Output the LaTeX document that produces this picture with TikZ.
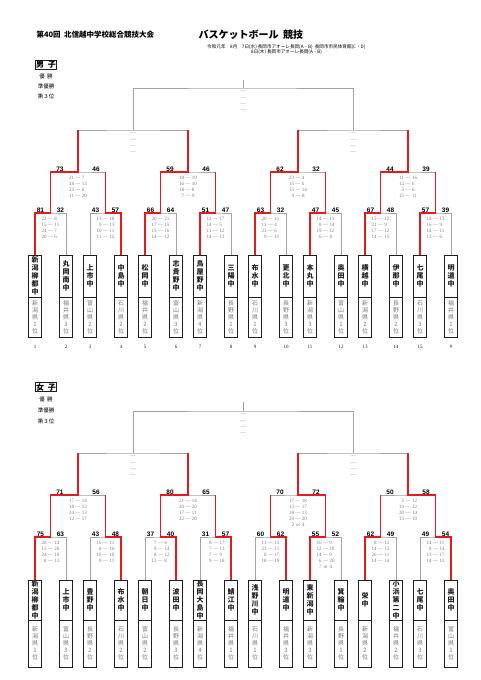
\documentclass[tikz,border=0pt]{standalone}
\usepackage{fontspec}
\setmainfont{Liberation Serif}
\setsansfont{Liberation Sans}
\newfontfamily\jp{Noto Sans CJK JP}
\usetikzlibrary{positioning,calc}
\definecolor{cGray}{HTML}{A3A3A3}
\definecolor{cRed}{HTML}{E5191E}
\definecolor{cInk}{HTML}{1E1E1E}
\definecolor{cSoft}{HTML}{7A7A7A}

\makeatletter
% upright names: one character per line
\newcommand\tate[1]{\edef\tate@list{#1}\vbox{\lineskiplimit=-\maxdimen
  \expandafter\@tfor\expandafter\tate@c\expandafter:\expandafter=\tate@list\do{\hbox to 12pt{\hss\tate@c\hss}}}}
% quarter scores, one a/b item per line (a/b/ot for overtime)
\newcommand\quarters[1]{\vbox{\lineskiplimit=-\maxdimen
  \@for\q@item:=#1\do{\expandafter\q@line\q@item/---/\relax}}}
\def\q@line#1/#2/#3/#4\relax{\hbox to 24pt{\hss\hbox to 8pt{\hss#1}\hspace{1.5pt}\hbox to 5pt{\hss#3\hss}\hspace{1.5pt}\hbox to 8pt{#2\hss}\hss}}
\makeatother

\tikzset{
  bline/.style  ={draw=cGray,line width=0.7pt},
  wline/.style  ={draw=cRed,line width=1.6pt},
  namebox/.style={draw=cInk,line width=0.9pt,minimum width=13pt,inner sep=0pt,outer sep=0pt,
                  anchor=north,font=\jp\bfseries\fontsize{7}{8}\selectfont,text=cInk},
  prefbox/.style={draw=cInk,line width=0.9pt,minimum width=13pt,inner sep=0pt,outer sep=0pt,
                  font=\jp\fontsize{6}{7}\selectfont,text=cSoft},
  pts/.style    ={font=\sffamily\bfseries\fontsize{6.5}{7}\selectfont,inner sep=0.4pt,anchor=south},
  sets/.style   ={font=\fontsize{5}{6.2}\selectfont,text=cSoft,inner sep=0pt,anchor=north},
  seed/.style   ={font=\fontsize{5}{6}\selectfont,text=cInk,inner sep=0pt},
  sexbox/.style ={draw=cInk,line width=0.8pt,font=\jp\bfseries\fontsize{8}{9}\selectfont,inner sep=0.8pt},
  rank/.style   ={font=\jp\fontsize{5.5}{6}\selectfont},
}

\begin{document}
\begin{tikzpicture}[x=1pt,y=-1pt]
\useasboundingbox (0,0) rectangle (481,680);

% heading
\node[anchor=west,font=\jp\bfseries\fontsize{7.5}{8}\selectfont] (meet) at (33,35) {第40回\ \ 北信越中学校総合競技大会};
\node[anchor=west,font=\jp\bfseries\fontsize{10}{11}\selectfont] (sport) at (195,35) {バスケットボール\ \ 競技};
\node[anchor=west,font=\jp\fontsize{4.6}{5}\selectfont,inner sep=0pt] (day1) at (207,47.5)
  {令和元年\quad 8月\quad 7日(水)\ 長岡市アオーレ長岡(A・B)\ \ 長岡市市民体育館(C・D)};
\node[anchor=west,font=\jp\fontsize{4.6}{5}\selectfont,inner sep=0pt] (day2) at (251,52.5)
  {8日(木)\ 長岡市アオーレ長岡(A・B)};

% ---------- boys ----------
\node[sexbox] (mhead) at (46,64.5) {男\ \ 子};
\node[rank] (mwin) at (46,76) {優\ \ 勝};
\node[rank] (mrun) at (46,86) {準優勝};
\node[rank] (mthd) at (46,96) {第３位};

\foreach \i/\nm/\pr/\no in {1/新潟柳都中/新潟県1位/1, 2/丸岡南中/福井県3位/2,
    3/上市中/富山県2位/3, 4/中島中/石川県2位/4, 5/松岡中/福井県2位/5,
    6/志貴野中/富山県3位/6, 7/鳥屋野中/新潟県4位/7, 8/三陽中/長野県1位/8,
    9/布水中/石川県1位/9, 10/更北中/長野県3位/10, 11/本丸中/新潟県3位/11,
    12/奥田中/富山県1位/12, 13/横越中/新潟県2位/13, 14/伊那中/長野県2位/14,
    15/七尾中/石川県3位/15, 16/明道中/福井県1位/\#}{
  \pgfmathsetmacro\tx{35+55*int((\i-1)/2)+31*mod(\i-1,2)}
  \node[namebox,minimum height=42pt] (m\i) at (\tx,255) {\tate{\nm}};
  \node[prefbox,minimum height=40pt,below=0pt of m\i] (mp\i) {\tate{\pr}};
  \node[seed,below=8pt of mp\i] (mn\i) {\no};
}

\foreach \k in {1,...,8}
  \coordinate (mA\k) at ({50.5+55*(\k-1)},213);
\foreach \j in {1,...,4}
  \coordinate (mB\j) at ({78+110*(\j-1)},172);
\coordinate (mC1) at (133,130);
\coordinate (mC2) at (353,130);
\coordinate (mF) at (243,88);
\coordinate (mtop) at (243,80);

\foreach \k in {1,...,8}{
  \pgfmathtruncatemacro\a{2*\k-1}\pgfmathtruncatemacro\b{2*\k}
  \draw[bline] (m\a.north) |- (mA\k) -| (m\b.north);
}
\foreach \j in {1,...,4}{
  \pgfmathtruncatemacro\a{2*\j-1}\pgfmathtruncatemacro\b{2*\j}
  \draw[bline] (mA\a) |- (mB\j) -| (mA\b);
}
\draw[bline] (mB1) |- (mC1) -| (mB2);
\draw[bline] (mB3) |- (mC2) -| (mB4);
\draw[bline] (mC1) |- (mF) -| (mC2);
\draw[bline] (mF) -- (mtop);

\foreach \k/\w/\l/\r/\st in {1/1/81/32/{22/8,15/11,24/7,20/6},
    2/2/43/57/{13/18,9/13,10/11,11/15}, 3/1/66/64/{20/21,17/15,15/16,14/12},
    4/1/51/47/{12/17,14/5,11/12,14/13}, 5/1/63/32/{20/11,11/4,23/6,9/11},
    6/1/47/45/{14/11,8/14,19/12,6/8},   7/1/67/48/{15/12,21/9,17/12,14/15},
    8/1/57/39/{14/13,16/9,14/11,13/6}}{
  \pgfmathtruncatemacro\t{2*\k-2+\w}
  \pgfmathtruncatemacro\j{(\k+1)/2}
  \draw[wline] (m\t.north) |- (mA\k) -- (mA\k |- mB\j);
  \node[pts] (mAl\k) at ([xshift=-10pt]mA\k) {\l};
  \node[pts] (mAr\k) at ([xshift=10pt]mA\k) {\r};
  \node[sets] (mAs\k) at ([yshift=-3.5pt]mA\k) {\quarters{\st}};
}
\foreach \j/\w/\l/\r/\st in {1/1/73/46/{21/7,18/13,23/6,11/20},
    2/1/59/46/{18/19,16/10,18/8,7/9}, 3/1/62/32/{23/4,15/6,15/14,9/8},
    4/1/44/39/{11/16,13/6,5/6,15/11}}{
  \pgfmathtruncatemacro\c{2*\j-2+\w}
  \pgfmathtruncatemacro\h{(\j+1)/2}
  \draw[wline] (mA\c) -- (mA\c |- mB\j) -- (mB\j) -- (mB\j |- mC\h);
  \node[pts] (mBl\j) at ([xshift=-18pt]mB\j) {\l};
  \node[pts] (mBr\j) at ([xshift=18pt]mB\j) {\r};
  \node[sets] (mBs\j) at ([yshift=-3.5pt]mB\j) {\quarters{\st}};
}
\foreach \p in {C1,C2,F}
  \node[sets,align=center] (m\p s) at ([yshift=-3.5pt]m\p) {---\\---\\---\\---};

% ---------- girls ----------
\node[sexbox] (fhead) at (46,387) {女\ \ 子};
\node[rank] (fwin) at (46,399) {優\ \ 勝};
\node[rank] (frun) at (46,410) {準優勝};
\node[rank] (fthd) at (46,421) {第３位};

\foreach \i/\nm/\pr in {1/新潟柳都中/新潟県1位, 2/上市中/富山県3位,
    3/豊野中/長野県2位, 4/布水中/石川県2位, 5/朝日中/富山県2位,
    6/波田中/長野県3位, 7/長岡大島中/新潟県4位, 8/鯖江中/福井県1位,
    9/浅野川中/石川県1位, 10/明道中/福井県3位, 11/東新潟中/新潟県3位,
    12/箕輪中/長野県1位, 13/栄中/新潟県2位, 14/小浜第二中/福井県2位,
    15/七尾中/石川県3位, 16/奥田中/富山県1位}{
  \pgfmathsetmacro\tx{35+55*int((\i-1)/2)+31*mod(\i-1,2)}
  \node[namebox,minimum height=40pt] (f\i) at (\tx,580) {\tate{\nm}};
  \node[prefbox,minimum height=47pt,below=0pt of f\i] (fp\i) {\tate{\pr}};
}

\foreach \k in {1,...,8}
  \coordinate (fA\k) at ({50.5+55*(\k-1)},537);
\foreach \j in {1,...,4}
  \coordinate (fB\j) at ({78+110*(\j-1)},495);
\coordinate (fC1) at (133,453);
\coordinate (fC2) at (353,453);
\coordinate (fF) at (243,411);
\coordinate (ftop) at (243,402);

\foreach \k in {1,...,8}{
  \pgfmathtruncatemacro\a{2*\k-1}\pgfmathtruncatemacro\b{2*\k}
  \draw[bline] (f\a.north) |- (fA\k) -| (f\b.north);
}
\foreach \j in {1,...,4}{
  \pgfmathtruncatemacro\a{2*\j-1}\pgfmathtruncatemacro\b{2*\j}
  \draw[bline] (fA\a) |- (fB\j) -| (fA\b);
}
\draw[bline] (fB1) |- (fC1) -| (fB2);
\draw[bline] (fB3) |- (fC2) -| (fB4);
\draw[bline] (fC1) |- (fF) -| (fC2);
\draw[bline] (fF) -- (ftop);

\foreach \k/\w/\l/\r/\st in {1/1/75/63/{28/14,15/26,24/10,8/13},
    2/2/43/48/{16/11,8/16,10/10,9/11}, 3/2/37/40/{7/6,9/14,8/12,13/8},
    4/2/31/57/{8/17,7/13,7/9,9/18},    5/2/60/62/{11/15,23/11,8/17,18/19},
    6/1/55/52/{16/9,12/10,14/9,6/20,7/4/ot}, 7/1/62/49/{8/12,14/12,26/11,14/14},
    8/2/49/54/{14/11,8/14,13/17,14/12}}{
  \pgfmathtruncatemacro\t{2*\k-2+\w}
  \pgfmathtruncatemacro\j{(\k+1)/2}
  \draw[wline] (f\t.north) |- (fA\k) -- (fA\k |- fB\j);
  \node[pts] (fAl\k) at ([xshift=-10pt]fA\k) {\l};
  \node[pts] (fAr\k) at ([xshift=10pt]fA\k) {\r};
  \node[sets] (fAs\k) at ([yshift=-3.5pt]fA\k) {\quarters{\st}};
}
\foreach \j/\w/\l/\r/\st in {1/1/71/56/{17/14,18/12,24/13,12/17},
    2/1/80/65/{21/14,20/20,17/11,22/20}, 3/2/70/72/{17/18,13/17,18/13,20/20,2/4/ot},
    4/2/50/58/{5/12,10/22,20/14,15/10}}{
  \pgfmathtruncatemacro\c{2*\j-2+\w}
  \pgfmathtruncatemacro\h{(\j+1)/2}
  \draw[wline] (fA\c) -- (fA\c |- fB\j) -- (fB\j) -- (fB\j |- fC\h);
  \node[pts] (fBl\j) at ([xshift=-18pt]fB\j) {\l};
  \node[pts] (fBr\j) at ([xshift=18pt]fB\j) {\r};
  \node[sets] (fBs\j) at ([yshift=-3.5pt]fB\j) {\quarters{\st}};
}
\foreach \p in {C1,C2,F}
  \node[sets,align=center] (f\p s) at ([yshift=-3.5pt]f\p) {---\\---\\---\\---};
\end{tikzpicture}
\end{document}
